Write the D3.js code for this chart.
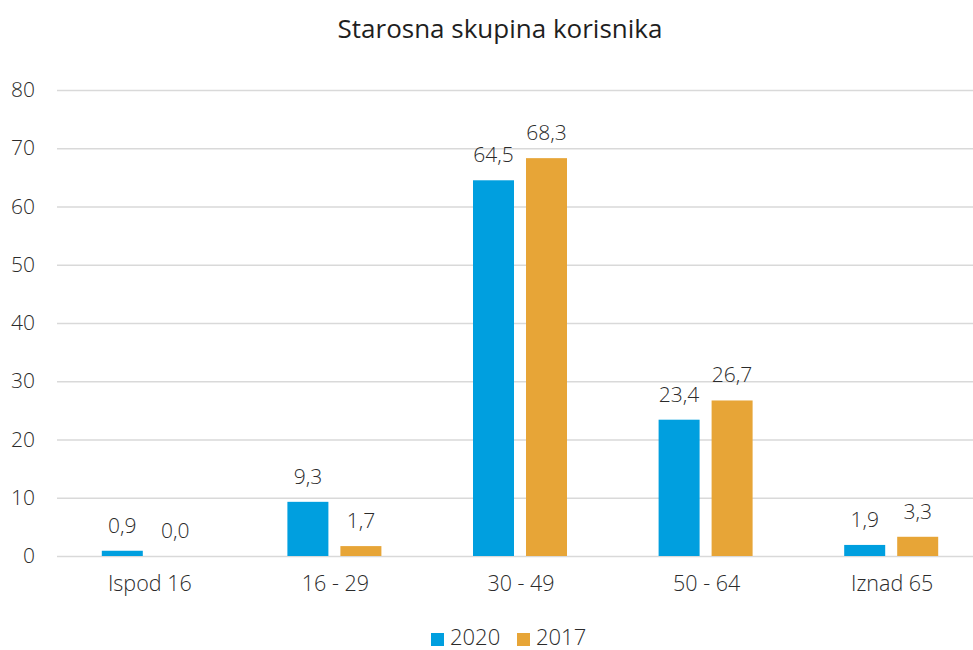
<!DOCTYPE html>
<html>
<head>
<meta charset="utf-8">
<script src="https://cdn.jsdelivr.net/npm/d3@7"></script>
<style>
  body { margin: 0; background: #fff; }
  text { font-family: "Open Sans", "Noto Sans", sans-serif; fill: #2b2b2b; font-weight: 300; }
</style>
</head>
<body>
<div id="chart"></div>
<script>
// data
var categories = ["Ispod 16", "16 - 29", "30 - 49", "50 - 64", "Iznad 65"];
var series = ["2020", "2017"];
var values2020 = [0.9, 9.3, 64.5, 23.4, 1.9];
var values2017 = [0.0, 1.7, 68.3, 26.7, 3.3];
var yTicks = [0, 10, 20, 30, 40, 50, 60, 70, 80];
var colors = ["#009fdf", "#e7a537"];

var svgWidth = 973;
var svgHeight = 650;

var margin = {
    top: 90,
    right: -12,
    bottom: 94,
    left: 57
};

var width = svgWidth - margin.left - margin.right;
var height = svgHeight - margin.top - margin.bottom;

var svg = d3.select("#chart")
    .append("svg")
    .attr("width", svgWidth)
    .attr("height", svgHeight);

var chartGroup = svg.append("g")
    .attr("transform", `translate(${margin.left}, ${margin.top})`);

var data = categories.map((c, i) => ({cat: c, vals: [values2020[i], values2017[i]]}));

var xScale = d3.scaleBand()
    .domain(categories)
    .range([0, width]);

var yScale = d3.scaleLinear()
    .domain([0, 80])
    .range([height, 0]);

// gridlines + y labels
var leftAxis = d3.axisLeft(yScale)
    .tickValues(yTicks)
    .tickSize(-width)
    .tickPadding(22)
    .tickFormat(d3.format("d"));

var yAxis = chartGroup.append("g").call(leftAxis);
yAxis.select(".domain").remove();
yAxis.selectAll("line").attr("stroke", "#d9d9d9").attr("stroke-width", 1.5);
yAxis.selectAll("text").style("font-size", "21px").style("fill", "#2b2b2b");

// x labels
var bottomAxis = d3.axisBottom(xScale).tickSize(0).tickPadding(20);
var xAxis = chartGroup.append("g")
    .attr("transform", `translate(0, ${height})`)
    .call(bottomAxis);
xAxis.select(".domain").remove();
xAxis.selectAll("text").style("font-size", "21.5px").style("fill", "#2b2b2b");

// bars
var barWidth = 41;
var offsets = [-48, 5];

var groups = chartGroup.selectAll(".cat")
    .data(data)
    .enter()
    .append("g")
    .attr("transform", d => `translate(${xScale(d.cat) + xScale.bandwidth() / 2}, 0)`);

groups.selectAll("rect")
    .data(d => d.vals)
    .enter()
    .append("rect")
    .attr("x", (d, i) => offsets[i])
    .attr("y", d => yScale(d))
    .attr("width", barWidth)
    .attr("height", d => height - yScale(d))
    .attr("fill", (d, i) => colors[i]);

groups.selectAll(".lbl")
    .data(d => d.vals)
    .enter()
    .append("text")
    .attr("x", (d, i) => offsets[i] + barWidth / 2)
    .attr("y", d => yScale(d) - 18)
    .attr("text-anchor", "middle")
    .style("font-size", "21px")
    .text(d => d.toFixed(1).replace(".", ","));

// title
svg.append("text")
    .attr("x", 500)
    .attr("y", 38)
    .attr("text-anchor", "middle")
    .style("font-size", "26px")
    .style("font-weight", "400")
    .style("fill", "#1f1f1f")
    .text("Starosna skupina korisnika");

// legend
var legend = svg.append("g").attr("transform", "translate(431, 0)");
var legendX = [0, 86];
series.forEach((s, i) => {
    legend.append("rect")
        .attr("x", legendX[i])
        .attr("y", 633)
        .attr("width", 13)
        .attr("height", 13)
        .attr("fill", colors[i]);
    legend.append("text")
        .attr("x", legendX[i] + 19)
        .attr("y", 645)
        .style("font-size", "22px")
        .text(s);
});
</script>
</body>
</html>
